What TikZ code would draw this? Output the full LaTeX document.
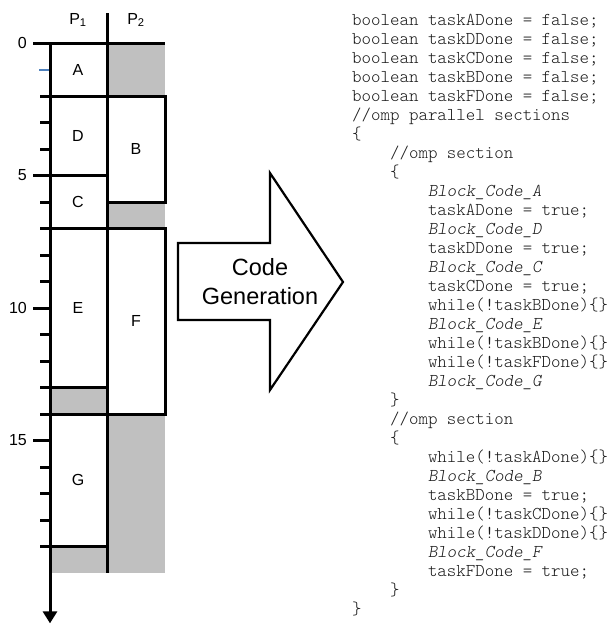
\documentclass[tikz,border=0pt]{standalone}
\usepackage{fontspec}
\setmainfont{Liberation Sans}
\setmonofont{Latin Modern Mono Light}
\usetikzlibrary{arrows.meta}

\definecolor{idle}{RGB}{192,192,192}
\definecolor{tickblue}{RGB}{79,129,189}
\newcommand{\cind}{\phantom{0000}}
\newcommand{\blkcode}[1]{\textit{Block\_Code\_#1}}

\tikzset{
  lbl/.style={font=\fontsize{16}{16}\selectfont, inner sep=1pt},
  edge/.style={line width=3pt},
  thinedge/.style={line width=2.2pt},
  code/.style={font=\fontsize{18.05}{19}\selectfont\ttfamily, text=black!90,
    align=left, inner sep=0pt},
}

\begin{document}
\begin{tikzpicture}[x=1pt,y=-1pt]
\useasboundingbox (0,0) rectangle (609,625);

% processor headers
\node[lbl,anchor=base] (p1) at (78,24) {P\textsubscript{1}};
\node[lbl,anchor=base] (p2) at (136,24) {P\textsubscript{2}};

% schedule, one unit down is one time step
\begin{scope}[yshift=-43pt,y=-26.5pt]
\fill[idle] (107,0) rectangle (165,2);
\fill[idle] (107,6) rectangle (165,7);
\fill[idle] (50,13) rectangle (107,14);
\fill[idle] (107,14) rectangle (165,20);
\fill[idle] (50,19) rectangle (107,20);

% ticks
\foreach \t in {3,4,6,8,9,11,12,16,17,18}
  \draw[edge] (40,\t) -- (50,\t);
\foreach \t in {10,15}
  \draw[edge] (33,\t) -- (50,\t);
\draw[line width=2pt,tickblue] (39,1) -- (50,1);
\foreach \t in {0,5,10,15}
  \node[lbl,anchor=east] (t\t) at (28,\t) {\t};

% task boundaries
\draw[edge] (33,0) -- (165,0);
\draw[edge] (40,2) -- (165,2) -- (165,6) -- (107,6);
\draw[thinedge] (33,5) -- (107,5);
\draw[edge] (40,7) -- (165,7) -- (165,14) -- (40,14);
\draw[thinedge] (40,13) -- (107,13);
\draw[thinedge] (40,19) -- (107,19);
\draw[edge] (107,-1.13) -- (107,20);
\draw[edge,-{Triangle[length=12pt,width=14pt]}] (50,0) -- (50,21.9);

\node[lbl] (A) at (78,1) {A};
\node[lbl] (D) at (78,3.5) {D};
\node[lbl] (C) at (78,6) {C};
\node[lbl] (B) at (136,4) {B};
\node[lbl] (E) at (78,10) {E};
\node[lbl] (F) at (136,10.5) {F};
\node[lbl] (G) at (78,16.5) {G};
\end{scope}

% big arrow
\draw[line width=2.2pt,line join=miter] (178,243) -- (270,243) -- (270,173)
  -- (343,282) -- (270,390) -- (270,320) -- (178,320) -- cycle;
\node[align=center,font=\fontsize{23.5}{29}\selectfont] (gen) at (260,282)
  {Code\\Generation};

% generated code
\node[code,anchor=north west] (src) at (352,14) {%
boolean taskADone = false;\\
boolean taskDDone = false;\\
boolean taskCDone = false;\\
boolean taskBDone = false;\\
boolean taskFDone = false;\\
//omp parallel sections\\
\{\\
\cind//omp section\\
\cind\{\\
\cind\cind\blkcode{A}\\
\cind\cind taskADone = true;\\
\cind\cind\blkcode{D}\\
\cind\cind taskDDone = true;\\
\cind\cind\blkcode{C}\\
\cind\cind taskCDone = true;\\
\cind\cind while(!taskBDone)\{\}\\
\cind\cind\blkcode{E}\\
\cind\cind while(!taskBDone)\{\}\\
\cind\cind while(!taskFDone)\{\}\\
\cind\cind\blkcode{G}\\
\cind\}\\
\cind//omp section\\
\cind\{\\
\cind\cind while(!taskADone)\{\}\\
\cind\cind\blkcode{B}\\
\cind\cind taskBDone = true;\\
\cind\cind while(!taskCDone)\{\}\\
\cind\cind while(!taskDDone)\{\}\\
\cind\cind\blkcode{F}\\
\cind\cind taskFDone = true;\\
\cind\}\\
\}};
\end{tikzpicture}
\end{document}
